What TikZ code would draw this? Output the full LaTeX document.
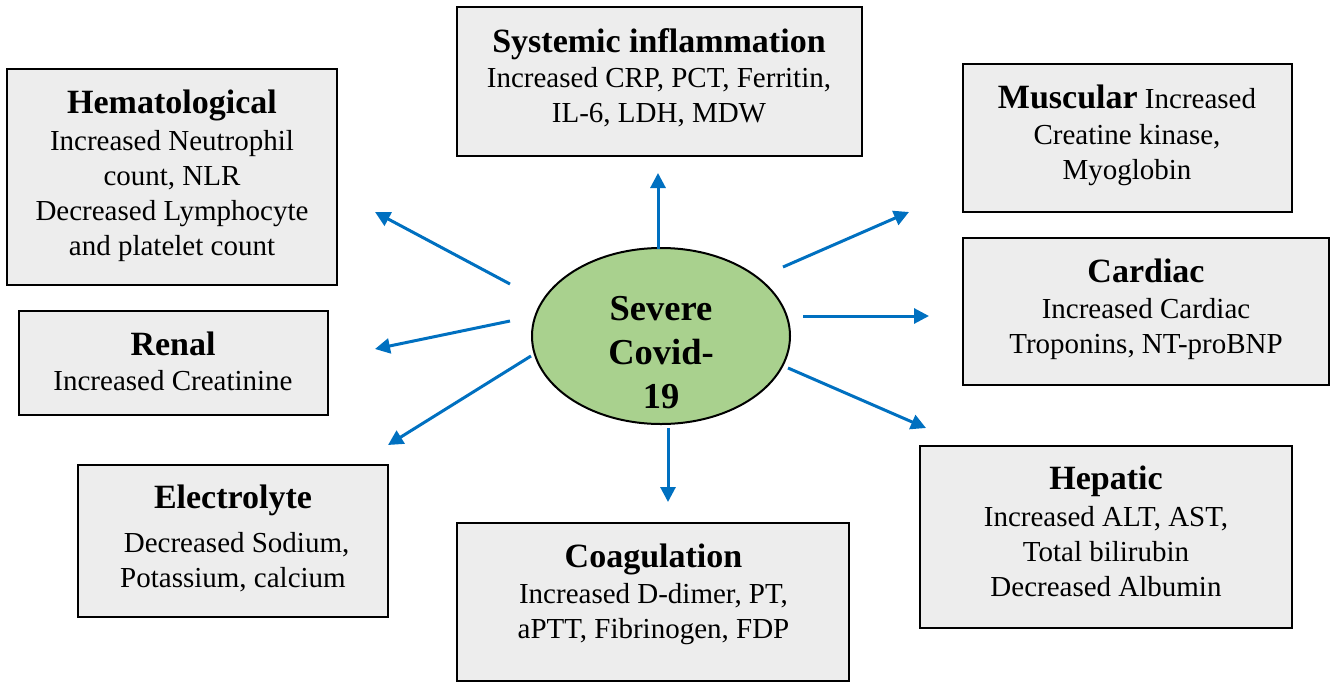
\documentclass[tikz,border=0pt]{standalone}
\usepackage{fontspec}
\setmainfont{Liberation Serif}
\usetikzlibrary{arrows.meta,shapes.geometric}
\definecolor{boxfill}{HTML}{EDEDED}
\definecolor{ellfill}{HTML}{A9D18E}
\definecolor{arrblue}{HTML}{0070C0}
\newcommand\boxtitle[1]{{\fontsize{34}{35}\selectfont\bfseries #1}}
\begin{document}
\begin{tikzpicture}[x=1pt,y=-1pt,
  panel/.style={draw=black, line width=2.5pt, fill=boxfill, rectangle, inner sep=0pt},
  txt/.style={anchor=base, inner sep=0pt, font=\fontsize{29}{35}\selectfont},
  link/.style={draw=arrblue, line width=3pt, -{Triangle[length=15pt,width=15pt]}}]
\useasboundingbox (0,0) rectangle (1333,683);

% boxes
\node[panel, minimum width=330pt, minimum height=216pt] (hem) at (172,177) {};
\node[panel, minimum width=309pt, minimum height=104pt] (ren) at (173.5,363) {};
\node[panel, minimum width=405pt, minimum height=149pt] (sys) at (659.5,81.5) {};
\node[panel, minimum width=329pt, minimum height=148pt] (mus) at (1127.5,138) {};
\node[panel, minimum width=366pt, minimum height=147pt] (car) at (1146,311.5) {};
\node[panel, minimum width=310pt, minimum height=152pt] (ele) at (233,541) {};
\node[panel, minimum width=392pt, minimum height=158pt] (coa) at (653,602) {};
\node[panel, minimum width=372pt, minimum height=182pt] (hep) at (1106,537) {};

% texts
\node[txt] (hemT) at (172,113) {\begin{tabular}[t]{@{}c@{}}\boxtitle{Hematological}\\[2pt] Increased Neutrophil\\ count, NLR\\ Decreased Lymphocyte\\ and platelet count\end{tabular}};
\node[txt] (renT) at (173,355) {\begin{tabular}[t]{@{}c@{}}\boxtitle{Renal}\\ Increased Creatinine\end{tabular}};
\node[txt] (sysT) at (659,52) {\begin{tabular}[t]{@{}c@{}}\boxtitle{Systemic inflammation}\\ Increased CRP, PCT, Ferritin,\\ IL-6, LDH, MDW\end{tabular}};
\node[txt] (musT) at (1127,108) {\begin{tabular}[t]{@{}c@{}}\boxtitle{Muscular} Increased\\[1pt] Creatine kinase,\\ Myoglobin\end{tabular}};
\node[txt] (carT) at (1146,282) {\begin{tabular}[t]{@{}c@{}}\boxtitle{Cardiac}\\[1pt] Increased Cardiac\\ Troponins, NT-proBNP\end{tabular}};
\node[txt] (eleT) at (233,508) {\begin{tabular}[t]{@{}c@{}}\boxtitle{Electrolyte}\\[9pt] \ Decreased Sodium,\\ Potassium, calcium\end{tabular}};
\node[txt] (coaT) at (653.5,567) {\begin{tabular}[t]{@{}c@{}}\boxtitle{Coagulation}\\[1pt] Increased D-dimer, PT,\\ aPTT, Fibrinogen, FDP\end{tabular}};
\node[txt] (hepT) at (1106,489) {\begin{tabular}[t]{@{}c@{}}\boxtitle{Hepatic}\\[2pt] Increased ALT, AST,\\ Total bilirubin\\ Decreased Albumin\end{tabular}};

% centre
\node[ellipse, draw=black, line width=2pt, fill=ellfill, minimum width=258pt, minimum height=176pt, inner sep=0pt] (core) at (661,336) {};
\node[anchor=base, inner sep=0pt, font=\fontsize{36.5}{44}\selectfont\bfseries] (coreT) at (661,320) {\begin{tabular}[t]{@{}c@{}}Severe\\ Covid-\\ 19\end{tabular}};

% arrow ends
\coordinate (upS) at (658,249);  \coordinate (upE) at (658,173);
\coordinate (hemS) at (510,284); \coordinate (hemE) at (375,212);
\coordinate (renS) at (510,321); \coordinate (renE) at (375,349);
\coordinate (eleS) at (531,356); \coordinate (eleE) at (388,445);
\coordinate (dnS) at (668,428);  \coordinate (dnE) at (668,502);
\coordinate (musS) at (783,267); \coordinate (musE) at (909,212);
\coordinate (carS) at (803,316); \coordinate (carE) at (929,316);
\coordinate (hepS) at (788,368); \coordinate (hepE) at (926,428);

\draw[link] (upS) -- (upE);
\draw[link] (hemS) -- (hemE);
\draw[link] (renS) -- (renE);
\draw[link] (eleS) -- (eleE);
\draw[link] (dnS) -- (dnE);
\draw[link] (musS) -- (musE);
\draw[link] (carS) -- (carE);
\draw[link] (hepS) -- (hepE);
\end{tikzpicture}
\end{document}
